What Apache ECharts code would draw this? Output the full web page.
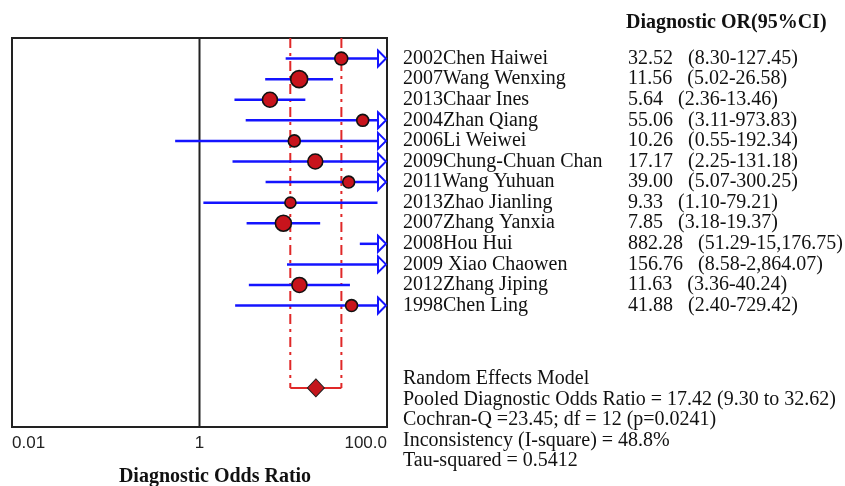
<!DOCTYPE html>
<html>
<head>
<meta charset="utf-8">
<script src="https://cdn.jsdelivr.net/npm/echarts@6/dist/echarts.min.js"></script>
<style>
html,body{margin:0;padding:0;background:#fff;}
#chart{width:845px;height:486px;}
</style>
</head>
<body>
<div id="chart"></div>
<script>
// ---- data ----
const studies = ['2002Chen Haiwei','2007Wang Wenxing','2013Chaar Ines','2004Zhan Qiang','2006Li Weiwei','2009Chung-Chuan Chan','2011Wang Yuhuan','2013Zhao Jianling','2007Zhang Yanxia','2008Hou Hui','2009 Xiao Chaowen','2012Zhang Jiping','1998Chen Ling'];
const orValues = [32.52, 11.56, 5.64, 55.06, 10.26, 17.17, 39.00, 9.33, 7.85, 882.28, 156.76, 11.63, 41.88];
const ciLower  = [8.30, 5.02, 2.36, 3.11, 0.55, 2.25, 5.07, 1.10, 3.18, 51.29, 8.58, 3.36, 2.40];
const ciUpper  = [127.45, 26.58, 13.46, 973.83, 192.34, 131.18, 300.25, 79.21, 19.37, 15176.75, 2864.07, 40.24, 729.42];
const weights  = [6.2, 10.7, 8.3, 5.3, 5.3, 8.3, 5.3, 4.5, 9.5, 2.1, 3.4, 8.3, 5.3];
const pooled = {or: 17.42, lower: 9.30, upper: 32.62};
const pooledRow = 16;
const xTickLabels = {'-2': '0.01', '0': '1', '2': '100.0'};
const xMin = 0.01, xMax = 100;
const yMin = -1, yMax = 17.9;
const headerText = 'Diagnostic OR(95%CI)';
const axisTitle = 'Diagnostic Odds Ratio';
const statsLines = [
  'Random Effects Model',
  'Pooled Diagnostic Odds Ratio = 17.42 (9.30 to 32.62)',
  'Cochran-Q =23.45; df = 12 (p=0.0241)',
  'Inconsistency (I-square) = 48.8%',
  'Tau-squared = 0.5412'
];

// ---- helpers ----
const fmt = v => v.toLocaleString('en-US', {minimumFractionDigits: 2, maximumFractionDigits: 2});
const SERIF = '"Liberation Serif", "Times New Roman", serif';
const BLUE = '#1414ff', RED = '#e02828', DOT = '#c8141c';

const ciData = studies.map((s, i) => [i, ciLower[i], ciUpper[i]]);
const dotData = orValues.map((v, i) => [v, i, weights[i]]).filter(d => d[0] <= xMax);
const labelData = studies.map((s, i) => [xMax, i]);

const chart = echarts.init(document.getElementById('chart'), null, {renderer: 'canvas'});

const statsGraphics = statsLines.map((t, k) => ({
  type: 'text', x: 403, y: 379 + k * 20.5,
  style: {text: t, font: '20px ' + SERIF, fill: '#111', align: 'left', verticalAlign: 'middle'}
}));

chart.setOption({
  animation: false,
  backgroundColor: '#fff',
  grid: {left: 12, top: 38, width: 375, height: 389, show: true, borderColor: '#222', borderWidth: 2, backgroundColor: 'transparent'},
  xAxis: {
    type: 'log', logBase: 10, min: xMin, max: xMax,
    axisLine: {show: false}, axisTick: {show: false}, splitLine: {show: false},
    axisLabel: {
      margin: 8, color: '#222', fontSize: 17, fontFamily: '"Liberation Sans", Arial, sans-serif',
      alignMinLabel: 'left', alignMaxLabel: 'right',
      formatter: v => { const e = Math.round(Math.log10(v)); return xTickLabels[String(e)] || ''; }
    }
  },
  yAxis: {type: 'value', min: yMin, max: yMax, inverse: true, show: false},
  graphic: [
    {type: 'text', x: 626, y: 23, style: {text: headerText, font: 'bold 20px ' + SERIF, fill: '#111', align: 'left', verticalAlign: 'middle'}},
    {type: 'text', x: 215, y: 477, style: {text: axisTitle, font: 'bold 20px ' + SERIF, fill: '#111', align: 'center', verticalAlign: 'middle'}}
  ].concat(statsGraphics),
  series: [
    // null line at OR = 1
    {type: 'line', data: [[1, yMin], [1, yMax]], symbol: 'none', lineStyle: {color: '#222', width: 2}, z: 1, silent: true},
    // pooled CI dash-dot verticals
    {type: 'line', data: [[pooled.lower, yMin], [pooled.lower, pooledRow]], symbol: 'none', lineStyle: {color: RED, width: 2, type: [10, 5, 3, 5]}, z: 2},
    {type: 'line', data: [[pooled.upper, yMin], [pooled.upper, pooledRow]], symbol: 'none', lineStyle: {color: RED, width: 2, type: [10, 5, 3, 5]}, z: 2},
    {type: 'line', data: [[pooled.lower, pooledRow], [pooled.upper, pooledRow]], symbol: 'none', lineStyle: {color: RED, width: 2}, z: 2},
    // study CI lines with arrows
    {
      type: 'custom', data: ciData, encode: {x: [1, 2], y: 0}, z: 3, clip: false,
      renderItem: (params, api) => {
        const row = api.value(0), lo = api.value(1), hi = api.value(2);
        const p1 = api.coord([Math.max(lo, xMin), row]);
        const p2 = api.coord([Math.min(hi, xMax), row]);
        const arrow = hi > xMax;
        const aw = 9, ah = 8;
        const children = [{
          type: 'line',
          shape: {x1: p1[0], y1: p1[1], x2: arrow ? p2[0] - aw : p2[0], y2: p2[1]},
          style: {stroke: BLUE, lineWidth: 2.5}
        }];
        if (arrow) {
          children.push({
            type: 'polygon',
            shape: {points: [[p2[0] - aw, p2[1] - ah], [p2[0] - 1, p2[1]], [p2[0] - aw, p2[1] + ah]]},
            style: {fill: '#fff', stroke: BLUE, lineWidth: 2}
          });
        }
        return {type: 'group', children};
      }
    },
    // study point estimates
    {
      type: 'scatter', data: dotData, z: 4,
      symbolSize: v => 5.2 * Math.sqrt(v[2]),
      itemStyle: {color: DOT, borderColor: '#111', borderWidth: 1.6, opacity: 1}
    },
    // pooled diamond
    {
      type: 'scatter', data: [[pooled.or, pooledRow]], symbol: 'diamond', symbolSize: [17, 18], z: 5,
      itemStyle: {color: '#c4161c', borderColor: '#222', borderWidth: 1, opacity: 1}
    },
    // table of study labels
    {
      type: 'custom', data: labelData, encode: {x: 0, y: 1}, z: 6, clip: false, silent: true,
      renderItem: (params, api) => {
        const i = params.dataIndex;
        const p = api.coord([api.value(0), api.value(1)]);
        return {type: 'group', children: [
          {type: 'text', x: p[0] + 16, y: p[1], style: {text: studies[i], font: '20px ' + SERIF, fill: '#111', align: 'left', verticalAlign: 'middle'}},
          {type: 'text', x: p[0] + 241, y: p[1], style: {text: fmt(orValues[i]) + '   (' + fmt(ciLower[i]) + '-' + fmt(ciUpper[i]) + ')', font: '20px ' + SERIF, fill: '#111', align: 'left', verticalAlign: 'middle'}}
        ]};
      }
    }
  ]
});
</script>
</body>
</html>
